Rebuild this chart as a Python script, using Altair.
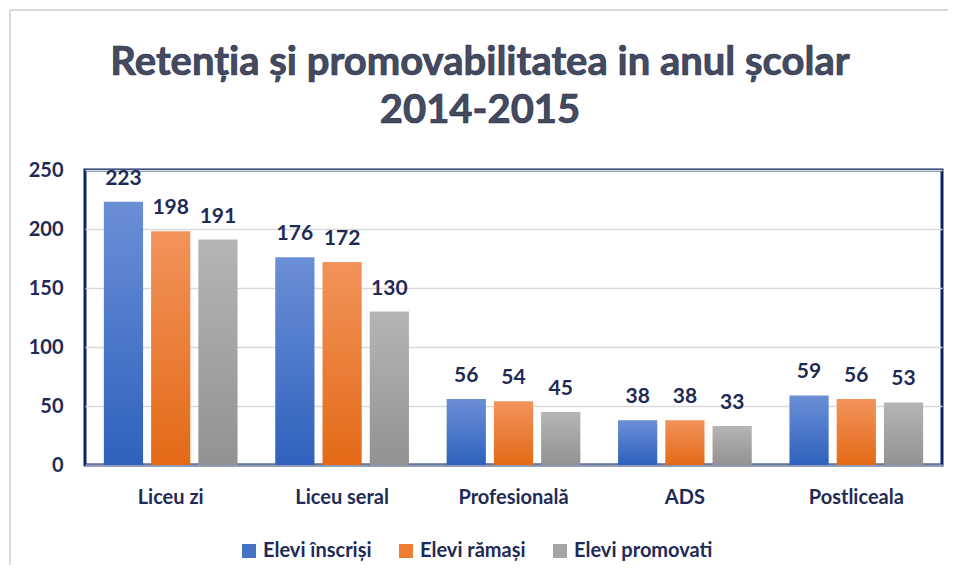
import altair as alt
import pandas as pd

categories = ["Liceu zi", "Liceu seral", "Profesională", "ADS", "Postliceala"]
series = ["Elevi înscriși", "Elevi rămași", "Elevi promovati"]
inscrisi = [223, 176, 56, 38, 59]
ramasi = [198, 172, 54, 38, 56]
promovati = [191, 130, 45, 33, 53]
title_lines = ["Retenția și promovabilitatea in anul școlar", "2014-2015"]

solid = ["#4472c4", "#ed7d31", "#a5a5a5"]
grad_top = ["#6b8fd6", "#f2935c", "#b5b5b5"]
grad_bot = ["#2f61bd", "#e36a16", "#929292"]

rows = []
for s, vals in zip(series, [inscrisi, ramasi, promovati]):
    for c, v in zip(categories, vals):
        rows.append({"cat": c, "series": s, "value": v})
df = pd.DataFrame(rows)

NAVY = "#1f2b55"
FONT = "Lato"

x_enc = alt.X("cat:N", sort=categories, title=None,
              scale=alt.Scale(paddingInner=0.22, paddingOuter=0.11),
              axis=alt.Axis(labelAngle=0, ticks=False, labelPadding=22,
                            labelFontSize=20, labelColor=NAVY, labelFont=FONT,
                            labelFontWeight="bold", domainColor="#8e9ab8", domainWidth=2))
xo_enc = alt.XOffset("series:N", sort=series,
                     scale=alt.Scale(domain=series, paddingInner=0.17))
y_enc = alt.Y("value:Q", title=None,
              scale=alt.Scale(domain=[0, 250], nice=False),
              axis=alt.Axis(values=[0, 50, 100, 150, 200, 250], ticks=False,
                            domain=False, labelPadding=22, labelFontSize=20,
                            labelColor=NAVY, labelFont=FONT, labelFontWeight="bold",
                            gridColor="#d9d9d9", gridWidth=1.5))

base = alt.Chart(df)

legend_layer = base.mark_bar(opacity=0).encode(
    x=x_enc, xOffset=xo_enc, y=y_enc,
    color=alt.Color("series:N", sort=series,
                    scale=alt.Scale(domain=series, range=solid),
                    legend=alt.Legend(title=None, orient="none", direction="horizontal",
                                      legendX=154, legendY=371,
                                      symbolType="square", symbolSize=196,
                                      symbolOpacity=1, symbolStrokeWidth=0,
                                      labelFontSize=20, labelFont=FONT,
                                      labelFontWeight="bold", labelColor=NAVY,
                                      labelOffset=4, columnPadding=24)),
)

layers = [legend_layer]
for i, s in enumerate(series):
    g = alt.LinearGradient(
        gradient="linear", x1=0, x2=0, y1=0, y2=1,
        stops=[alt.GradientStop(color=grad_top[i], offset=0),
               alt.GradientStop(color=grad_bot[i], offset=1)])
    layers.append(
        base.transform_filter(alt.datum.series == s)
        .mark_bar(color=g)
        .encode(x=x_enc, xOffset=xo_enc, y=y_enc)
    )

labels = base.mark_text(baseline="bottom", dy=-13, fontSize=21, font=FONT,
                        fontWeight="bold", color=NAVY).encode(
    x=x_enc, xOffset=xo_enc, y=y_enc, text="value:Q")
layers.append(labels)

one = pd.DataFrame({"a": [0]})
frame = alt.Chart(one).mark_rule(color="#d9d9d9", strokeWidth=2).encode(
    x=alt.value(-75), x2=alt.value(865), y=alt.value(-160))
frame_l = alt.Chart(one).mark_rule(color="#d9d9d9", strokeWidth=2).encode(
    x=alt.value(-75), y=alt.value(-160), y2=alt.value(420))
frame_r = alt.Chart(one).mark_rule(color="#d9d9d9", strokeWidth=2).encode(
    x=alt.value(865), y=alt.value(-160), y2=alt.value(420))

title1 = alt.Chart(pd.DataFrame({"t": [title_lines[0]]})).mark_text(
    fontSize=40, font=FONT, fontWeight="bold", color="#464b5c",
    stroke="#27325e", strokeWidth=0.7, baseline="middle", align="center").encode(
    x=alt.value(395), y=alt.value(-107), text="t:N")
title2 = alt.Chart(pd.DataFrame({"t": [title_lines[1]]})).mark_text(
    fontSize=40, font=FONT, fontWeight="bold", color="#464b5c",
    stroke="#27325e", strokeWidth=0.7, baseline="middle", align="center").encode(
    x=alt.value(395), y=alt.value(-59), text="t:N")

chart = alt.layer(frame, frame_l, frame_r, title1, title2, *layers).resolve_scale(
    color="independent").properties(
    width=857, height=295,
    autosize=alt.AutoSizeParams(type="none"),
    padding={"left": 77, "top": 162, "right": 6, "bottom": 100},
).configure_view(stroke="#0c2463", strokeWidth=3)

chart.save("out.html", embed_options={"renderer": "svg", "actions": False})
